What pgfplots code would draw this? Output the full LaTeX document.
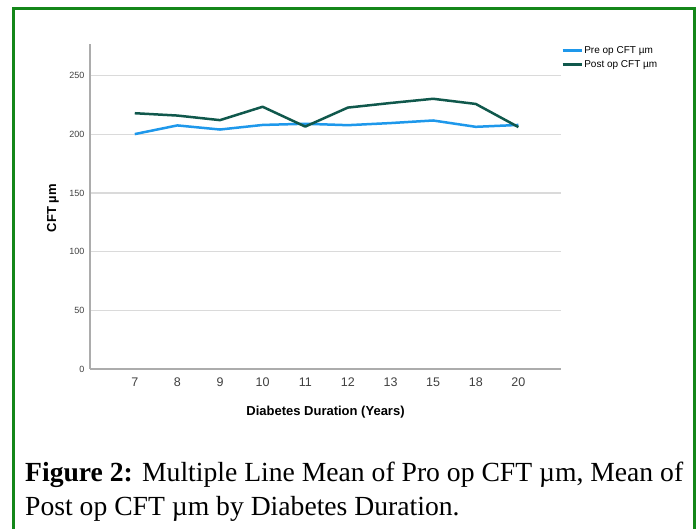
\documentclass[border=0pt]{standalone}
\usepackage{fontspec}
\setmainfont{Liberation Sans}
\newfontfamily\capfont{Liberation Serif}
\usepackage{pgfplots}
\pgfplotsset{compat=1.18}

\definecolor{preblue}{RGB}{30,152,235}
\definecolor{postgreen}{RGB}{16,88,76}
\definecolor{framegreen}{RGB}{20,135,25}
\definecolor{gridgray}{RGB}{218,218,218}
\definecolor{axisgray}{RGB}{172,172,172}

\newlength\capw
\begin{document}
\settowidth\capw{\capfont\fontsize{20}{20}\selectfont\textbf{Figure 2:} Multiple Line Mean of Pro op CFT µm, Mean of}%
\pgfmathsetmacro\capfs{20*658/\capw}%
\begin{tikzpicture}[x=1pt,y=1pt]
\useasboundingbox (0,0) rectangle (697,529);
\fill[white] (0,0) rectangle (697,529);
\draw[framegreen, line width=3pt] (13,-10) -- (13,520) -- (694,520) -- (694,-10);

\begin{axis}[
  at={(90pt,160pt)}, anchor=south west,
  scale only axis, width=471pt, height=325pt,
  xmin=-1.05, xmax=10, ymin=0, ymax=277,
  axis lines=left,
  axis line style={-, axisgray, line width=1.4pt},
  xtick={0,...,9},
  xticklabels={7,8,9,10,11,12,13,15,18,20},
  ytick={0,50,...,250},
  major tick length=0pt,
  ymajorgrids,
  grid style={gridgray, line width=1.3pt},
  /pgf/number format/assume math mode=true,
  xticklabel style={font=\fontsize{12.5}{12.5}\selectfont, text=black!75, yshift=-5pt},
  yticklabel style={font=\fontsize{9}{9}\selectfont, text=black!75, xshift=-2pt},
  xlabel={\textbf{Diabetes Duration (Years)}},
  ylabel={\textbf{CFT µm}},
  xlabel style={font=\fontsize{13}{13}\selectfont, at={(axis description cs:0.5,0)}, anchor=center, yshift=-43pt},
  ylabel style={font=\fontsize{13}{13}\selectfont, at={(axis description cs:0,0.495)}, anchor=center, yshift=37pt},
  legend style={at={(axis description cs:1.0,1.0)}, anchor=north west, draw=none, fill=none,
    font=\fontsize{10}{10}\selectfont, inner sep=0pt, row sep=1pt,
    nodes={inner sep=1.5pt, text height=7.5pt, text depth=2.5pt}},
  legend cell align=left,
  legend image code/.code={\draw[#1, line width=2.6pt] (0pt,0pt) -- (19pt,0pt);},
  clip=false,
]
\addplot[preblue, line width=2.5pt, line join=round] coordinates {
  (0,200.2) (1,207.6) (2,204.1) (3,208.0) (4,209.0) (5,207.8) (6,209.6) (7,211.8) (8,206.4) (9,208.0)};
\addlegendentry{Pre op CFT µm}
\addplot[postgreen, line width=2.5pt, line join=round] coordinates {
  (0,218.0) (1,216.0) (2,212.1) (3,223.5) (4,206.6) (5,222.8) (6,226.7) (7,230.3) (8,225.9) (9,206.2)};
\addlegendentry{Post op CFT µm}
\end{axis}

\node[anchor=base west, inner sep=0pt] at (25,47)
  {\capfont\fontsize{\capfs pt}{\capfs pt}\selectfont\textbf{Figure 2:} Multiple Line Mean of Pro op CFT µm, Mean of};
\node[anchor=base west, inner sep=0pt] at (25,13)
  {\capfont\fontsize{\capfs pt}{\capfs pt}\selectfont Post op CFT µm by Diabetes Duration.};
\end{tikzpicture}
\end{document}
